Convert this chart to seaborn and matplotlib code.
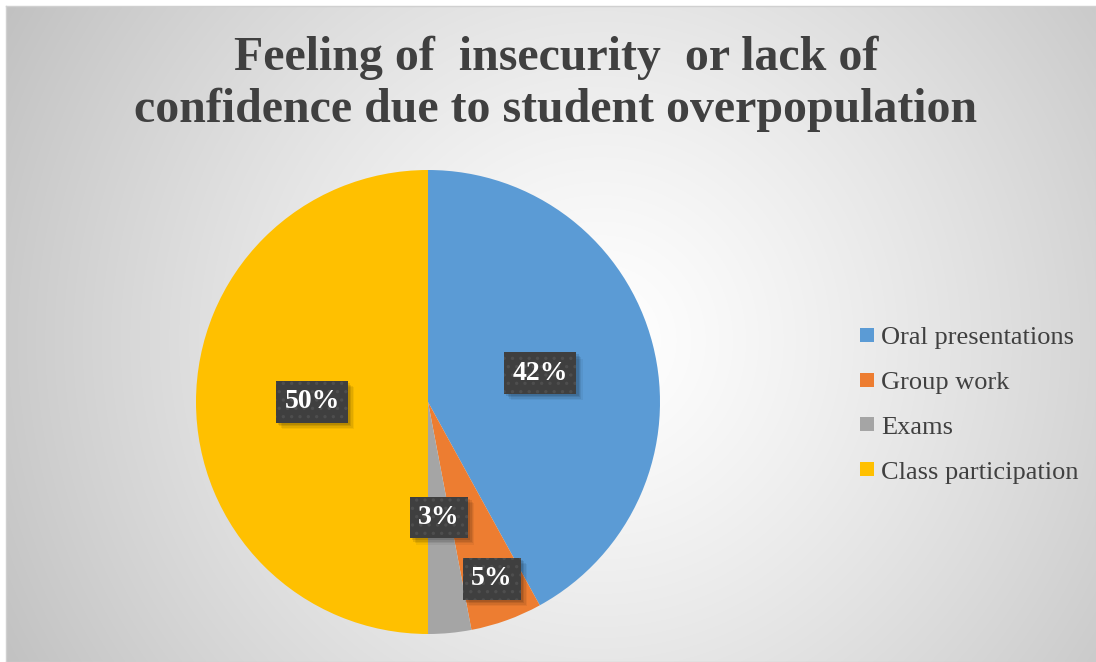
import numpy as np
import matplotlib
matplotlib.use("Agg")
import matplotlib.pyplot as plt
import matplotlib.patheffects as pe
from matplotlib.lines import Line2D
import seaborn as sns

categories = ["Oral presentations", "Group work", "Exams", "Class participation"]
values = [42, 5, 3, 50]
colors = ["#5B9BD5", "#ED7D31", "#A5A5A5", "#FFC000"]
title = "Feeling of  insecurity  or lack of\nconfidence due to student overpopulation"

sns.set_theme(style="white")
plt.rcParams["font.family"] = ["Liberation Serif", "DejaVu Serif"]
plt.rcParams["hatch.linewidth"] = 1.2


class SoftShadow(pe.AbstractPathEffect):
    """Flat shadow of a patch, drawn without its hatch."""
    def __init__(self, offset, alpha):
        super().__init__(offset)
        self.alpha = alpha

    def draw_path(self, renderer, gc, tpath, affine, rgbFace=None):
        gc0 = renderer.new_gc()
        gc0.copy_properties(gc)
        gc0.set_hatch(None)
        gc0.set_linewidth(0)
        gc0.set_alpha(self.alpha)
        renderer.draw_path(gc0, tpath, affine + self._offset_transform(renderer), (0, 0, 0))
        gc0.restore()


W, H = 1096, 662
fig = plt.figure(figsize=(W / 100, H / 100), dpi=100)
fig.patch.set_facecolor("white")

# background radial gradient
bg = fig.add_axes([6 / W, 0, 1 - 6 / W, 1 - 6 / H], zorder=0)
yy, xx = np.mgrid[6:H, 6:W]
d = np.hypot(xx - 600, yy - 340)
g = 255 - 63 * (d / 690) ** 1.25
g = np.clip(g, 0, 255) / 255
bg.imshow(np.dstack([g, g, g]), aspect="auto", interpolation="bilinear")
bg.set_xticks([]); bg.set_yticks([])
for s in bg.spines.values():
    s.set_color("#d0d0d0"); s.set_linewidth(1)

fig.text(556 / W, 1 - 84 / H, title, ha="center", va="center", fontsize=34.5,
         fontweight="bold", color="#404040", linespacing=1.24, zorder=3)

cx, cy, r = 428, H - 402, 232
ax = fig.add_axes([(cx - r) / W, (cy - r) / H, 2 * r / W, 2 * r / H], zorder=2)
wedges, texts, autotexts = ax.pie(values, colors=colors, startangle=90, counterclock=False,
                                  autopct="%1.0f%%", pctdistance=0.5,
                                  wedgeprops=dict(linewidth=0),
                                  textprops=dict(color="white", fontsize=20, fontweight="bold"))
ax.set_xlim(-1, 1); ax.set_ylim(-1, 1)
ax.set_aspect("equal")

for w, t in zip(wedges, autotexts):
    frac = (w.theta2 - w.theta1) / 360
    if 0.04 < frac < 0.06:
        ang = np.deg2rad((w.theta1 + w.theta2) / 2)
        t.set_position((0.81 * np.cos(ang), 0.81 * np.sin(ang)))
    t.set_zorder(5)
    t.set_bbox(dict(boxstyle="square,pad=0.3", facecolor="#3f3f3f", edgecolor="#4e4e4e",
                    linewidth=0, hatch=".."))
    t.get_bbox_patch().set_path_effects([
        SoftShadow((4.5, -4.5), 0.05), SoftShadow((3.5, -3.5), 0.07),
        SoftShadow((2.5, -2.5), 0.09), SoftShadow((1.5, -1.5), 0.1),
        pe.Normal()])

handles = [Line2D([], [], marker="s", linestyle="", markersize=10, markerfacecolor=c,
                  markeredgewidth=0) for c in colors]
leg = fig.legend(handles, categories, loc="center left", bbox_to_anchor=(830 / W, 1 - 404.5 / H),
                 frameon=False, fontsize=19, labelspacing=0.81, handletextpad=0.05,
                 handlelength=1.0, labelcolor="#404040")
leg.set_zorder(3)

fig.savefig("out.png", dpi=100)
